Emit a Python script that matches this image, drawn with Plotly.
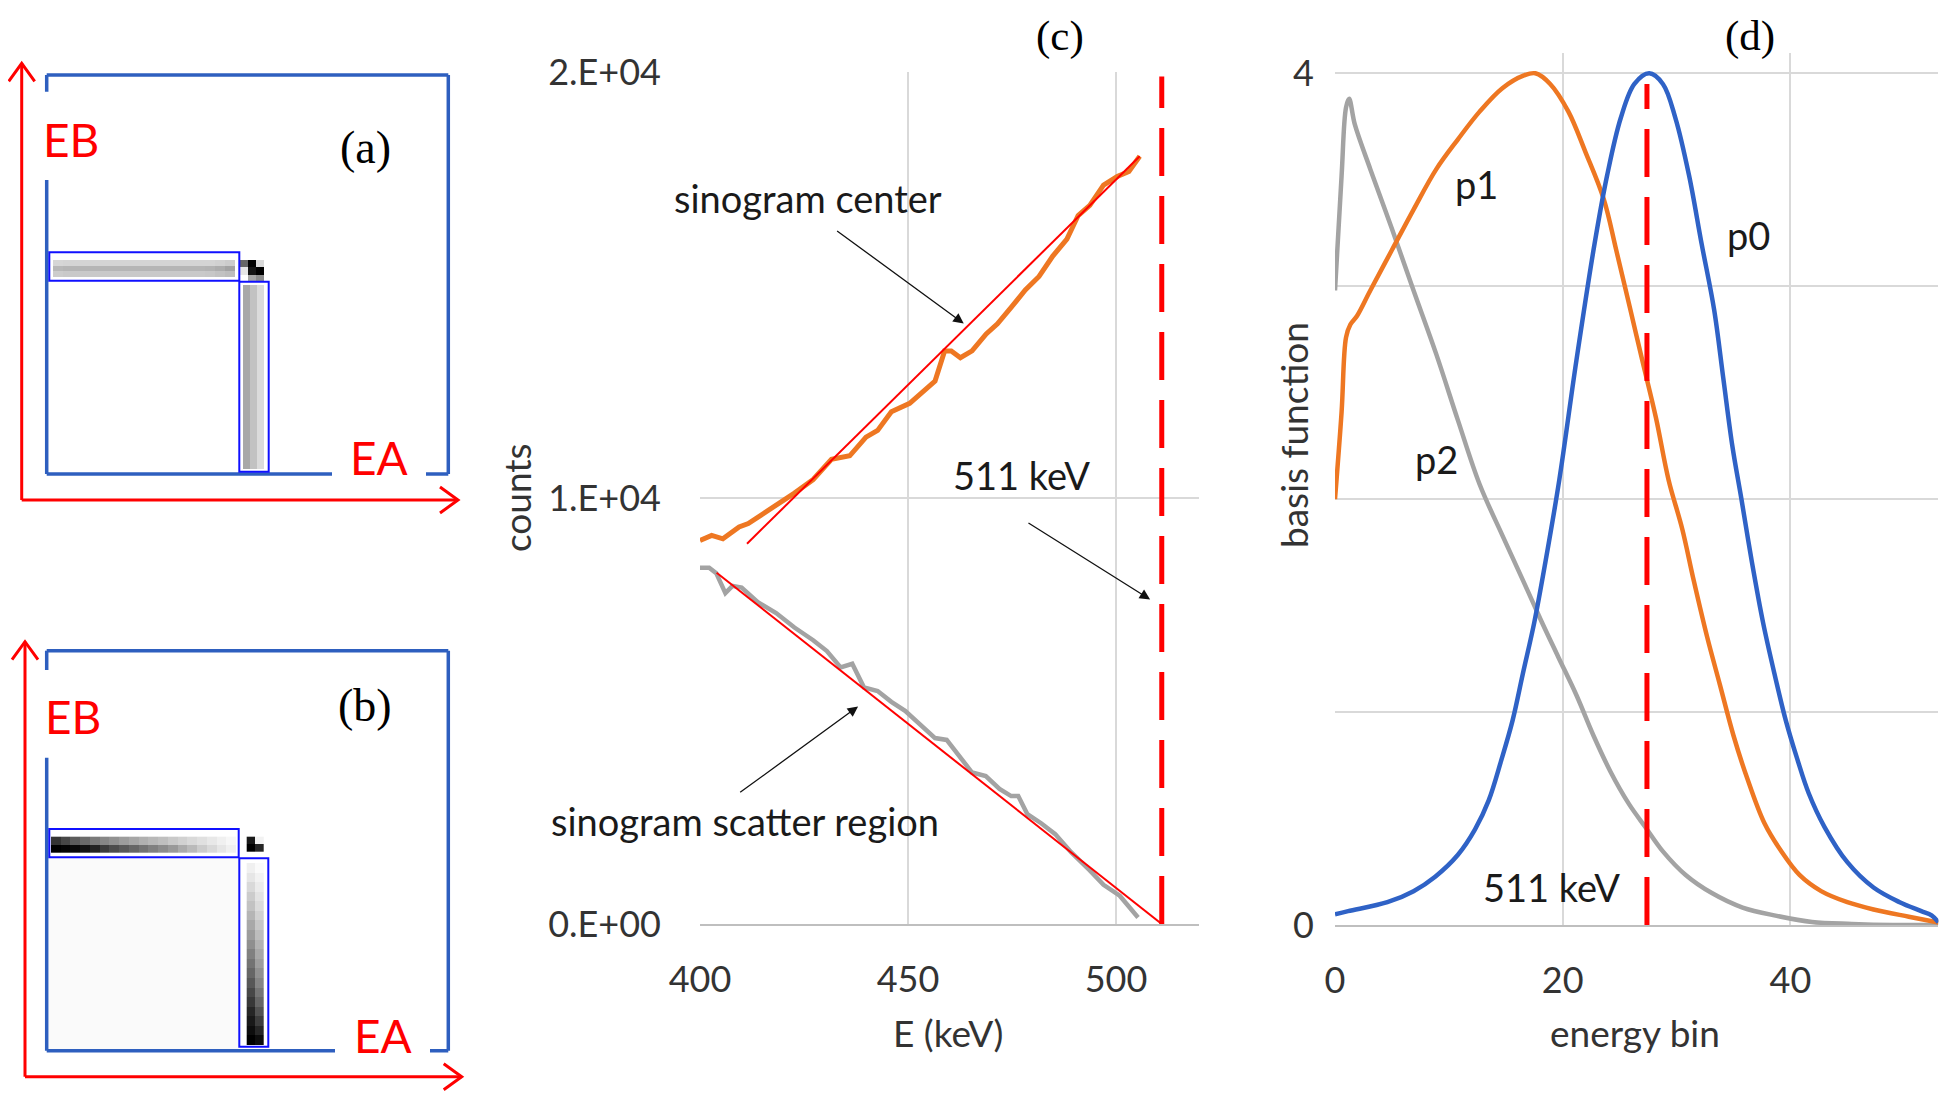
import plotly.graph_objects as go

W, H = 1950, 1101
OFF = 8  # page body margin of the html page

# ---------------- data ----------------
# panel (c)
center_E = [400, 402.8, 405.5, 409.4, 411.6, 417.2, 422.7, 427.2, 431.6, 436, 439.9, 442.7, 446, 450.4,
            454.3, 456.5, 458.8, 460.4, 462.6, 465.4, 468.8, 471.5, 474.9, 478.2, 481.5, 484.8, 488.2, 490.9,
            493.7, 497, 500.3, 503.1, 505.7]
center_counts = [9006, 9126, 9046, 9324, 9404, 9762, 10119, 10437, 10914, 10994, 11431, 11590, 12027, 12226,
                 12544, 12750, 13458, 13458, 13299, 13458, 13855, 14094, 14491, 14889, 15207, 15684, 16081, 16637,
                 16876, 17353, 17552, 17671, 18029]
center_fit_E = [411.3, 505.7]
center_fit_counts = [8930, 18030]

scatter_E = [400, 402.2, 403.9, 406.1, 407.8, 410, 413.9, 418.3, 422.7, 427.2, 430.5, 433.8, 436.6, 439.4,
             442.7, 446, 449.3, 452.7, 456.5, 459.3, 462.6, 465.4, 468.7, 472, 474.8, 476.5, 478.7, 482,
             485.4, 489.2, 493.7, 497, 500.9, 503.1, 505.3]
scatter_counts = [8366, 8366, 8238, 7770, 7940, 7898, 7557, 7302, 6962, 6664, 6409, 6026, 6111, 5557,
                  5472, 5217, 5004, 4706, 4366, 4323, 3898, 3557, 3472, 3174, 3004, 3004, 2579, 2366,
                  2111, 1685, 1260, 919, 664, 409, 153]
scatter_fit_E = [404, 511]
scatter_fit_counts = [8250, 0]

peak_E = [511, 511]
peak_counts = [0, 19900]

c_yticks = [0, 10000, 20000]
c_yticktext = ["0.E+00", "1.E+04", "2.E+04"]
c_xticks = [400, 450, 500]

# panel (d)
p0_bin = [0, 1.15, 4.6, 6.9, 8.8, 10.8, 12.3, 13.5, 14.6, 15.6, 16.5, 17.5, 18.5, 19.7, 21.2, 22.8, 23.9,
          25.1, 26.3, 27.6, 28.8, 29.9, 31.1, 32.2, 33.3, 34.1, 34.9, 35.7, 36.6, 37.6, 38.6, 39.6, 40.6,
          41.6, 43.0, 45.0, 47.3, 49.6, 51.5, 52.4, 53]
p0_val = [0.05, 0.065, 0.107, 0.159, 0.227, 0.33, 0.449, 0.585, 0.773, 0.961, 1.18, 1.42, 1.71, 2.09, 2.65,
          3.20, 3.52, 3.79, 3.95, 4.0, 3.95, 3.79, 3.52, 3.20, 2.89, 2.57, 2.25, 2.0, 1.71, 1.42, 1.18, 0.96,
          0.78, 0.62, 0.46, 0.295, 0.176, 0.107, 0.065, 0.045, 0.012]

p1_bin = [0, 0.58, 0.97, 1.35, 1.93, 3.1, 5.0, 6.9, 8.9, 10.8, 12.7, 14.7, 16.6, 17.6, 18.9, 20.5, 22.0, 23.6,
          24.7, 25.9, 27.0, 28.2, 29.3, 30.5, 31.5, 32.7, 33.8, 35.0, 36.2, 37.7, 39.2, 40.8, 42.7, 45.0,
          47.3, 50.4, 53]
p1_val = [2.0, 2.41, 2.76, 2.82, 2.86, 2.98, 3.17, 3.36, 3.55, 3.69, 3.82, 3.93, 3.99, 4.0, 3.95, 3.82, 3.63,
          3.41, 3.17, 2.90, 2.65, 2.38, 2.09, 1.86, 1.62, 1.35, 1.13, 0.89, 0.69, 0.48, 0.346, 0.235, 0.159,
          0.107, 0.073, 0.039, 0.012]

p2_bin = [0, 0.58, 0.97, 1.24, 1.74, 3.1, 5.0, 6.9, 8.9, 10.8, 12.7, 14.7, 16.5, 18.1, 19.6, 21.2, 22.7, 24.2,
          25.8, 27.3, 28.8, 30.8, 33.1, 35.8, 38.8, 41.9, 45.4, 49, 53]
p2_val = [2.98, 3.52, 3.84, 3.88, 3.76, 3.55, 3.27, 2.98, 2.68, 2.37, 2.07, 1.83, 1.62, 1.43, 1.26, 1.08,
          0.89, 0.72, 0.57, 0.457, 0.346, 0.235, 0.150, 0.082, 0.043, 0.014, 0.005, 0.0, 0.0]

peak_bin = [27.4, 27.4]
peak_val = [0, 3.95]

d_yticks = [0, 1, 2, 3, 4]
d_yticktext = ["0", "", "", "", "4"]
d_xticks = [0, 20, 40]

# panel (a) / (b) detector-pair energy histograms (gray level, 1 = black)
a_row_strip = [
    [0.16, 0.17, 0.17, 0.17, 0.17, 0.17, 0.17, 0.17, 0.17, 0.17, 0.17, 0.17, 0.17, 0.17, 0.17, 0.17, 0.18, 0.2],
    [0.28, 0.29, 0.29, 0.29, 0.29, 0.29, 0.29, 0.29, 0.29, 0.29, 0.29, 0.29, 0.29, 0.29, 0.29, 0.3, 0.32, 0.36],
    [0.2, 0.21, 0.21, 0.21, 0.21, 0.21, 0.21, 0.21, 0.21, 0.21, 0.21, 0.21, 0.21, 0.21, 0.21, 0.22, 0.24, 0.26],
]
a_col_strip = [[0.34, 0.24, 0.14]] * 18
a_corner = [
    [0.6, 1.0, 0.15],
    [0.1, 0.92, 1.0],
    [0.0, 0.35, 0.45],
]
b_row_strip = [
    [0.8, 0.72, 0.64, 0.58, 0.52, 0.47, 0.43, 0.39, 0.35, 0.31, 0.28, 0.25, 0.21, 0.18, 0.15, 0.12, 0.09, 0.06, 0.03],
    [1.0, 0.98, 0.96, 0.92, 0.86, 0.76, 0.7, 0.65, 0.6, 0.55, 0.5, 0.45, 0.4, 0.33, 0.27, 0.2, 0.15, 0.1, 0.06],
]
b_col_left = [0.06, 0.1, 0.15, 0.2, 0.24, 0.29, 0.34, 0.39, 0.44, 0.5, 0.55, 0.6, 0.66, 0.72, 0.78, 0.85, 0.9, 0.95, 1.0]
b_col_right = [0.02, 0.05, 0.08, 0.11, 0.14, 0.18, 0.22, 0.26, 0.3, 0.34, 0.38, 0.43, 0.48, 0.54, 0.6, 0.68, 0.76, 0.85, 0.95]
b_corner = [
    [0.9, 0.05],
    [1.0, 0.85],
]

# ---------------- styling helpers ----------------
SANS = "Lato, 'Open Sans', sans-serif"
SERIF = "'Liberation Serif', 'DejaVu Serif', serif"
TXT = "#1a1a1a"
ORANGE = "#EE7722"
GRAY = "#A3A3A3"
BLUE = "#2F62C6"
RED = "#FF0000"
BOXBLUE = "#2E5FBF"
INNERBLUE = "#1010FF"
GRID = "#D9D9D9"


def px(x):
    return (x - OFF) / W


def py(y):
    return 1 - (y - OFF) / H


fig = go.Figure()

# ---------------- panel (c) ----------------
fig.add_trace(go.Scatter(x=center_E, y=center_counts, mode="lines", xaxis="x", yaxis="y",
                         line=dict(color=ORANGE, width=5), showlegend=False))
fig.add_trace(go.Scatter(x=scatter_E, y=scatter_counts, mode="lines", xaxis="x", yaxis="y",
                         line=dict(color=GRAY, width=4.5), showlegend=False))
fig.add_trace(go.Scatter(x=center_fit_E, y=center_fit_counts, mode="lines", xaxis="x", yaxis="y",
                         line=dict(color=RED, width=2), showlegend=False))
fig.add_trace(go.Scatter(x=scatter_fit_E, y=scatter_fit_counts, mode="lines", xaxis="x", yaxis="y",
                         line=dict(color=RED, width=2), showlegend=False))
fig.add_trace(go.Scatter(x=peak_E, y=peak_counts, mode="lines", xaxis="x", yaxis="y",
                         line=dict(color=RED, width=5, dash="48px,20px"), showlegend=False))

# ---------------- panel (d) ----------------
fig.add_trace(go.Scatter(x=p2_bin, y=p2_val, mode="lines", xaxis="x2", yaxis="y2", line_shape="spline",
                         line=dict(color=GRAY, width=4.5, smoothing=1.0), showlegend=False))
fig.add_trace(go.Scatter(x=p1_bin, y=p1_val, mode="lines", xaxis="x2", yaxis="y2", line_shape="spline",
                         line=dict(color=ORANGE, width=4.5, smoothing=1.0), showlegend=False))
fig.add_trace(go.Scatter(x=p0_bin, y=p0_val, mode="lines", xaxis="x2", yaxis="y2", line_shape="spline",
                         line=dict(color=BLUE, width=4.5, smoothing=1.0), showlegend=False))
fig.add_trace(go.Scatter(x=peak_bin, y=peak_val, mode="lines", xaxis="x2", yaxis="y2",
                         line=dict(color=RED, width=5, dash="48px,20px"), showlegend=False))

# ---------------- panels (a),(b): pixel canvas ----------------
cs = [[0, "white"], [1, "black"]]


def hm(z, x_left, y_top, dx, dy):
    fig.add_trace(go.Heatmap(z=z, x0=x_left + dx / 2, dx=dx, y0=y_top + dy / 2, dy=dy,
                             colorscale=cs, zmin=0, zmax=1, showscale=False,
                             xaxis="x3", yaxis="y3", hoverinfo="skip"))


hm(a_row_strip, 53, 260, 182 / 18, 17 / 3)
hm(a_col_strip, 243, 285, 7, 184 / 18)
hm(a_corner, 240, 260, 8, 7.3)
hm(b_row_strip, 51, 836.7, 185 / 19, 8)
hm([[l, r] for l, r in zip(b_col_left, b_col_right)], 246.7, 863, 8.3, 182 / 19)
hm(b_corner, 246.7, 836.7, 8.3, 7.5)

shapes = []


def seg(x0, y0, x1, y1, color, width):
    shapes.append(dict(type="line", xref="x3", yref="y3", x0=x0, y0=y0, x1=x1, y1=y1,
                       line=dict(color=color, width=width), layer="above"))


def path(d, color, width):
    shapes.append(dict(type="path", xref="x3", yref="y3", path=d,
                       line=dict(color=color, width=width), layer="above"))


def rect(x0, y0, x1, y1, color, width):
    shapes.append(dict(type="rect", xref="x3", yref="y3", x0=x0, y0=y0, x1=x1, y1=y1,
                       line=dict(color=color, width=width), layer="above"))


def panel(top, bottom, gapL0, gapL1, gapB0, gapB1, ax_x, ax_y, ax_top, ax_right, hbox, vbox):
    L, R = 46.7, 448.3
    # outer blue frame with gaps for labels
    seg(L, top, R, top, BOXBLUE, 3.5)
    seg(R, top, R, bottom, BOXBLUE, 3.5)
    seg(L, bottom, gapB0, bottom, BOXBLUE, 3.5)
    seg(gapB1, bottom, R, bottom, BOXBLUE, 3.5)
    seg(L, top, L, gapL0, BOXBLUE, 3.5)
    seg(L, gapL1, L, bottom, BOXBLUE, 3.5)
    # red axes arrows
    seg(ax_x, ax_y, ax_x, ax_top, RED, 3)
    seg(ax_x, ax_y, ax_right, ax_y, RED, 3)
    path(f"M {ax_x-13},{ax_top+18} L {ax_x},{ax_top} L {ax_x+13},{ax_top+18}", RED, 3)
    path(f"M {ax_right-18},{ax_y-13} L {ax_right},{ax_y} L {ax_right-18},{ax_y+13}", RED, 3)
    rect(*hbox, INNERBLUE, 2)
    rect(*vbox, INNERBLUE, 2)


shapes.append(dict(type="rect", xref="x3", yref="y3", x0=49, y0=858, x1=239, y1=1049,
                   fillcolor="#FAFAFA", line=dict(width=0), layer="below"))
panel(75, 474, 91.7, 180, 332, 426, 21.7, 500, 63.3, 458,
      (49.3, 252.3, 239.3, 280.7), (239.3, 281.7, 268.7, 471.7))
panel(650.7, 1050.7, 670, 757.7, 335, 430, 25, 1076.7, 641.7, 461.7,
      (49.3, 829, 238.7, 857.3), (239.3, 858.3, 268.3, 1046.7))

# ---------------- annotations ----------------
ann = []


def txt(x, y, s, size, color=TXT, family=SANS, ref=("x3", "y3"), angle=0):
    ann.append(dict(x=x, y=y, xref=ref[0], yref=ref[1], text=s, showarrow=False,
                    font=dict(family=family, size=size, color=color),
                    xanchor="center", yanchor="middle", textangle=angle, borderpad=0))


def arrow(x, y, ax, ay, ref):
    ann.append(dict(x=x, y=y, ax=ax, ay=ay, xref=ref[0], yref=ref[1], axref=ref[0], ayref=ref[1],
                    text="", showarrow=True, arrowhead=2, arrowsize=1.6, arrowwidth=1.3,
                    arrowcolor="#111111", standoff=0, startstandoff=0))


txt(70.8, 139, "EB", 46, RED)
txt(379, 457, "EA", 46, RED)
txt(365, 147, "(a)", 46, "#000000", SERIF)
txt(73.3, 716.7, "EB", 46, RED)
txt(383, 1035, "EA", 46, RED)
txt(365, 705, "(b)", 46, "#000000", SERIF)

paper = ("paper", "paper")
txt(px(1060), py(36), "(c)", 43, "#000000", SERIF, paper)
txt(px(1750), py(36), "(d)", 43, "#000000", SERIF, paper)
txt(px(516), py(497), "counts", 37, "#333333", SANS, paper, -90)
txt(px(948), py(1032), "E (keV)", 37, "#333333", SANS, paper)
txt(px(1293), py(435), "basis function", 37, "#333333", SANS, paper, -90)
txt(px(1635), py(1032), "energy bin", 37, "#333333", SANS, paper)

cref = ("x", "y")
txt(426, 17050, "sinogram center", 38, TXT, SANS, cref)
arrow(463.4, 14100, 432.6, 16300, cref)
txt(477.4, 10550, "511 keV", 38, TXT, SANS, cref)
arrow(508.2, 7620, 478.6, 9440, cref)
txt(410.8, 2430, "sinogram scatter region", 38, TXT, SANS, cref)
arrow(438.0, 5108, 409.3, 3066, cref)

dref = ("x2", "y2")
txt(12.4, 3.48, "p1", 38, TXT, SANS, dref)
txt(36.3, 3.24, "p0", 38, TXT, SANS, dref)
txt(8.9, 2.19, "p2", 38, TXT, SANS, dref)
txt(19.0, 0.18, "511 keV", 38, TXT, SANS, dref)

tickfont = dict(family=SANS, size=36, color="#333333")

fig.update_layout(
    template="none",
    width=W, height=H, margin=dict(l=0, r=0, t=0, b=0, pad=0, autoexpand=False),
    paper_bgcolor="white", plot_bgcolor="rgba(0,0,0,0)",
    showlegend=False,
    shapes=shapes, annotations=ann,
    xaxis=dict(domain=[px(700), px(1199.2)], range=[400, 520], tickvals=c_xticks, ticks="",
               showgrid=True, gridcolor=GRID, gridwidth=1.5, zeroline=False, automargin=False,
               showline=True, linecolor="#BFBFBF", linewidth=2, tickfont=tickfont,
               ticklabelstandoff=23, anchor="y"),
    yaxis=dict(domain=[py(924), py(72.3)], range=[0, 20000], tickvals=c_yticks, ticktext=c_yticktext,
               ticks="", showgrid=True, gridcolor=GRID, gridwidth=1.5, zeroline=False, showline=False,
               automargin=False, tickfont=tickfont, ticklabelstandoff=38, anchor="x"),
    xaxis2=dict(domain=[px(1335), px(1938.4)], range=[0, 53], tickvals=d_xticks, ticks="",
                showgrid=True, gridcolor=GRID, gridwidth=1.5, zeroline=False, automargin=False,
                showline=True, linecolor="#BFBFBF", linewidth=2, tickfont=tickfont,
                ticklabelstandoff=23, anchor="y2"),
    yaxis2=dict(domain=[py(925), py(53.3)], range=[0, 4.094], tickvals=d_yticks, ticktext=d_yticktext,
                ticks="", showgrid=True, gridcolor=GRID, gridwidth=1.5, zeroline=False, showline=False,
                automargin=False, tickfont=tickfont, ticklabelstandoff=20, anchor="x2"),
    xaxis3=dict(domain=[0, 0.25], range=[OFF, OFF + 487.5], visible=False, anchor="y3", automargin=False),
    yaxis3=dict(domain=[0, 1], range=[H + OFF, OFF], visible=False, anchor="x3", automargin=False),
)

fig.write_html("out.html")
